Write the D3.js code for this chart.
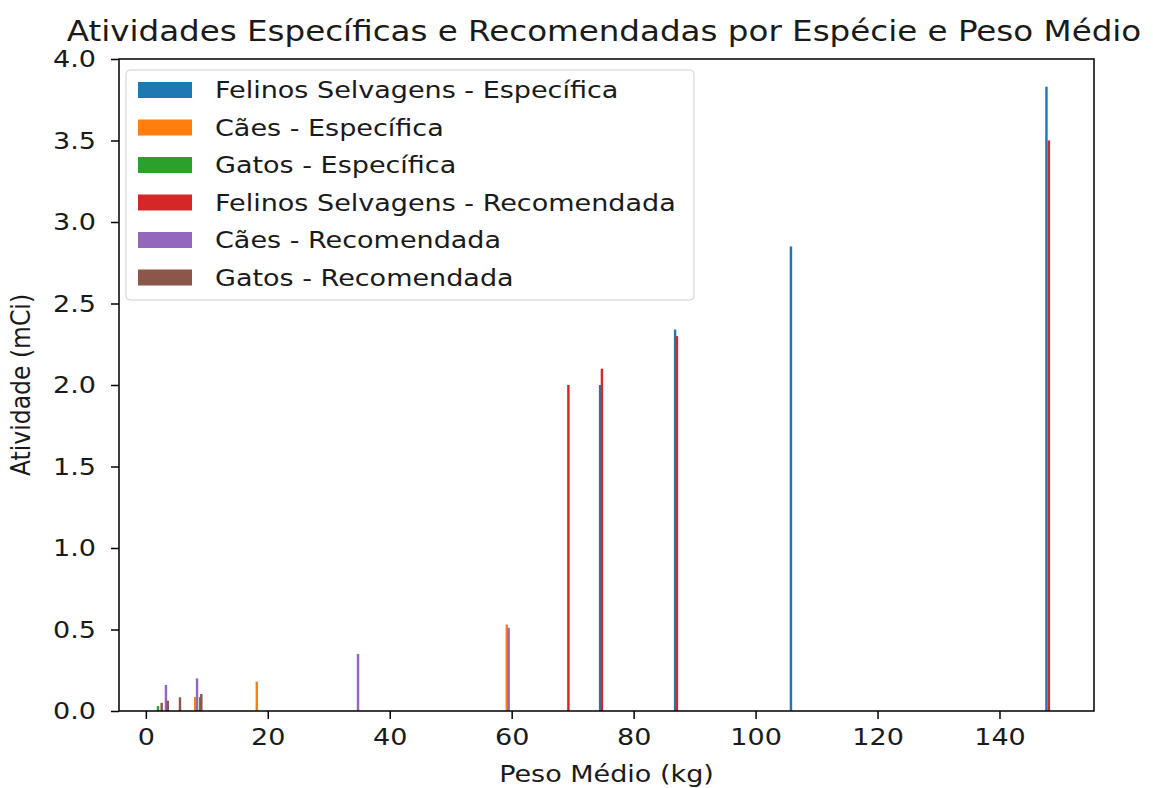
<!DOCTYPE html>
<html>
<head>
<meta charset="utf-8">
<script src="https://cdn.jsdelivr.net/npm/d3@7"></script>
<style>
  body { margin: 0; background: #fff; }
  svg text { font-family: "DejaVu Sans", sans-serif; fill: #1a1a1a; }
</style>
</head>
<body>
<div id="chart"></div>
<script>
// bar centres (kg) and activities (mCi)
const felinosEspPeso = [74.5, 86.8, 105.8, 147.7];
const felinosEsp = [2.0, 2.34, 2.85, 3.83];
const caesEspPeso = [8.1, 18.2, 59.2];
const caesEsp = [0.085, 0.18, 0.53];
const gatosEspPeso = [2.0, 8.9];
const gatosEsp = [0.03, 0.085];

const felinosRecPeso = [69.3, 74.8, 87.1, 148.1];
const felinosRec = [2.0, 2.1, 2.3, 3.5];
const caesRecPeso = [3.3, 8.4, 34.8, 59.5];
const caesRec = [0.16, 0.2, 0.35, 0.51];
const gatosRecPeso = [2.6, 3.6, 5.6, 9.1];
const gatosRec = [0.05, 0.063, 0.084, 0.104];

const seriesNames = [
    'Felinos Selvagens - Específica', 'Cães - Específica', 'Gatos - Específica',
    'Felinos Selvagens - Recomendada', 'Cães - Recomendada', 'Gatos - Recomendada'
];
const seriesColors = ['#1f77b4', '#ff7f0e', '#2ca02c', '#d62728', '#9467bd', '#8c564b'];
const xTicks = [0, 20, 40, 60, 80, 100, 120, 140];
const yTicks = [0, 0.5, 1.0, 1.5, 2.0, 2.5, 3.0, 3.5, 4.0];

const width = 1153, height = 788;
const margin = { top: 59, right: 59, bottom: 77, left: 119 };
const barWidth = 0.4;
const stretch = 1.15; // the picture is a bit wider than tall, text too

const series = [
    [felinosEspPeso, felinosEsp], [caesEspPeso, caesEsp], [gatosEspPeso, gatosEsp],
    [felinosRecPeso, felinosRec], [caesRecPeso, caesRec], [gatosRecPeso, gatosRec]
].map((s, i) => ({
    name: seriesNames[i],
    color: seriesColors[i],
    values: s[0].map((p, j) => ({ peso: p, val: s[1][j] }))
}));

const xScale = d3.scaleLinear().domain([-4.4, 155.5]).range([margin.left, width - margin.right]);
const yScale = d3.scaleLinear().domain([0, 4]).range([height - margin.bottom, margin.top]);

const svg = d3.select('#chart').append('svg')
    .attr('width', width)
    .attr('height', height);

// stretched text at (x, y) in the parent's coordinates
function addText(parent, x, y, str, size, anchor) {
    return parent.append('text')
        .attr('x', x / stretch).attr('y', y)
        .attr('transform', 'scale(' + stretch + ',1)')
        .attr('text-anchor', anchor || 'start')
        .style('font-size', size + 'px')
        .text(str);
}

// bars
series.forEach(s => {
    svg.append('g').selectAll('rect')
        .data(s.values)
        .enter().append('rect')
            .attr('x', d => xScale(d.peso - barWidth / 2))
            .attr('width', d => xScale(d.peso + barWidth / 2) - xScale(d.peso - barWidth / 2))
            .attr('y', d => yScale(d.val))
            .attr('height', d => yScale(0) - yScale(d.val))
            .attr('fill', s.color);
});

// axes
const xAxis = svg.append('g')
    .attr('transform', 'translate(0,' + (height - margin.bottom) + ')')
    .call(d3.axisBottom(xScale).tickValues(xTicks).tickSize(8).tickPadding(9).tickFormat(d3.format('d')));
const yAxis = svg.append('g')
    .attr('transform', 'translate(' + margin.left + ',0)')
    .call(d3.axisLeft(yScale).tickValues(yTicks).tickSize(8).tickFormat(d3.format('.1f')));
[xAxis, yAxis].forEach(a => {
    a.select('.domain').remove();
    a.selectAll('line').attr('stroke', '#000').attr('stroke-width', 1.5);
    a.selectAll('text')
        .style('font-size', '23.5px')
        .attr('fill', '#1a1a1a')
        .attr('transform', 'scale(' + stretch + ',1)');
});
yAxis.selectAll('text').attr('x', -23 / stretch);

// frame
svg.append('rect')
    .attr('x', margin.left).attr('y', margin.top)
    .attr('width', width - margin.left - margin.right)
    .attr('height', height - margin.top - margin.bottom)
    .attr('fill', 'none').attr('stroke', '#000').attr('stroke-width', 1.5);

// title and labels
addText(svg, 604, 41, 'Atividades Específicas e Recomendadas por Espécie e Peso Médio', 28.3, 'middle');
addText(svg, (margin.left + width - margin.right) / 2, 782, 'Peso Médio (kg)', 23.5, 'middle');
svg.append('text')
    .attr('transform', 'translate(30,' + ((margin.top + height - margin.bottom) / 2) + ') scale(' + stretch + ',1) rotate(-90)')
    .attr('text-anchor', 'middle')
    .style('font-size', '23.5px')
    .text('Atividade (mCi)');

// legend
const legend = svg.append('g').attr('transform', 'translate(126,70)');
legend.append('rect')
    .attr('width', 568).attr('height', 230)
    .attr('rx', 4)
    .attr('fill', '#fff').attr('fill-opacity', 0.8)
    .attr('stroke', '#d0d0d0');
series.forEach((s, i) => {
    const row = legend.append('g').attr('transform', 'translate(0,' + (20 + i * 37.5) + ')');
    row.append('rect')
        .attr('x', 12).attr('y', -8)
        .attr('width', 54).attr('height', 16)
        .attr('fill', s.color);
    addText(row, 89, 8, s.name, 23.5);
});
</script>
</body>
</html>
